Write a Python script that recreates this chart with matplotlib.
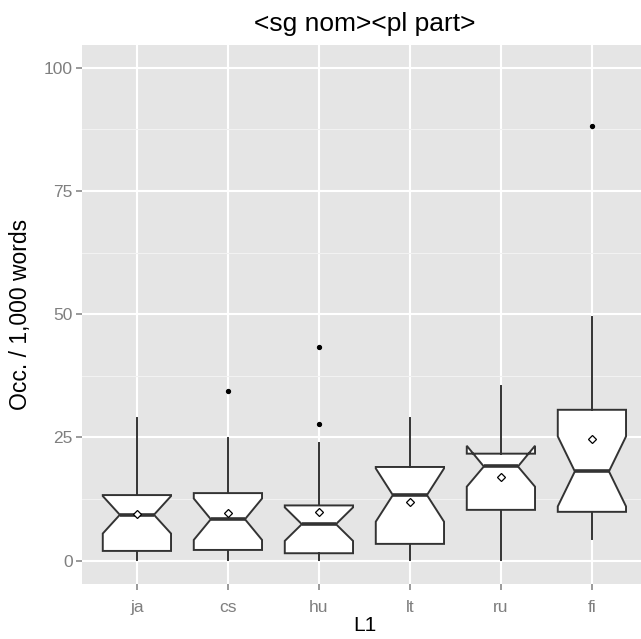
import matplotlib
matplotlib.use("Agg")
import matplotlib.pyplot as plt

plt.rcParams['font.family'] = ['Liberation Sans', 'DejaVu Sans']

categories = ["ja", "cs", "hu", "lt", "ru", "fi"]
q1 = [1.97, 2.17, 1.5, 3.4, 10.3, 9.9]
median = [9.3, 8.4, 7.4, 13.3, 19.1, 18.1]
q3 = [13.3, 13.7, 11.2, 19.0, 21.7, 30.6]
notch_lo = [5.5, 4.2, 4.0, 7.9, 15.0, 11.0]
notch_hi = [13.1, 12.6, 10.8, 18.7, 23.3, 25.2]
whisker_lo = [0.1, 0.1, 0.1, 0.1, 0.1, 4.4]
whisker_hi = [28.9, 24.8, 23.9, 28.9, 35.4, 49.5]
means = [9.45, 9.7, 9.8, 11.8, 17.0, 24.6]
outliers = [[], [34.5], [27.7, 43.3], [], [], [88.1]]
yticks = [0, 25, 50, 75, 100]

fig = plt.figure(figsize=(6.41, 6.39), dpi=100)
ax = fig.add_axes([82.3 / 641, 54.7 / 639, 564.2 / 641, 539.3 / 639])
ax.set_facecolor("#E5E5E5")

stats = []
for i in range(len(categories)):
    stats.append(dict(med=median[i], q1=q1[i], q3=q3[i], whislo=whisker_lo[i],
                      whishi=whisker_hi[i], cilo=notch_lo[i], cihi=notch_hi[i],
                      mean=means[i], fliers=outliers[i], label=categories[i]))

edge = "#333333"
ax.bxp(stats, positions=range(1, 7), widths=0.75, shownotches=True, showcaps=False,
       showmeans=True, patch_artist=True,
       boxprops=dict(facecolor="white", edgecolor=edge, linewidth=1.4),
       medianprops=dict(color=edge, linewidth=2.6, solid_capstyle="butt"),
       whiskerprops=dict(color=edge, linewidth=1.4),
       flierprops=dict(marker="o", markerfacecolor="black", markeredgecolor="black",
                       markersize=2.8, linestyle="none"),
       meanprops=dict(marker="D", markerfacecolor="white", markeredgecolor="black",
                      markersize=3.6, markeredgewidth=0.9),
       zorder=3)

ax.set_xlim(0.4, 6.6)
ax.set_ylim(-4.8, 104.6)
ax.set_yticks(yticks)
ax.set_yticks([12.5, 37.5, 62.5, 87.5], minor=True)
ax.set_xticks(range(1, 7))
ax.set_xticklabels(categories)
ax.grid(which="major", color="white", linewidth=1.5, zorder=0)
ax.grid(which="minor", axis="y", color="#F2F2F2", linewidth=0.8, zorder=0)
ax.set_axisbelow(True)
for s in ax.spines.values():
    s.set_visible(False)
ax.tick_params(axis="both", which="major", colors="#7F7F7F", labelcolor="#7F7F7F",
               labelsize=12.5, length=4, width=1.1)
ax.tick_params(axis="x", which="major", pad=7)
ax.tick_params(axis="y", which="major", pad=3)
ax.tick_params(axis="both", which="minor", length=0)

ax.set_title("<sg nom><pl part>", fontsize=19, color="black", pad=10)
ax.set_xlabel("L1", fontsize=15, color="black", labelpad=1)
ax.set_ylabel("Occ. / 1,000 words", fontsize=16.5, color="black", labelpad=8)

fig.savefig("out.png", dpi=100)
